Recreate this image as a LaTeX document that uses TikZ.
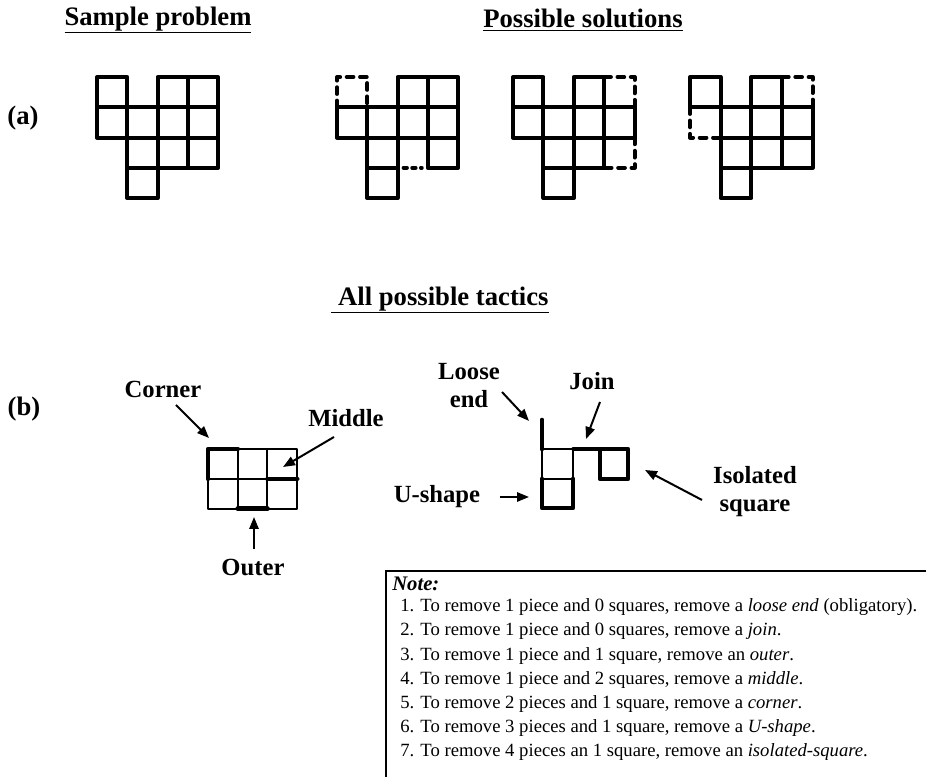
\documentclass[tikz,border=0pt]{standalone}
\usepackage{fontspec}
\setmainfont{Liberation Serif}
\usetikzlibrary{arrows.meta}
\begin{document}
\begin{tikzpicture}[x=0.75pt,y=-0.75pt,
  grid/.style={line width=3pt,line cap=round,line join=round},
  dsh/.style={grid,dash pattern=on 5pt off 5pt},
  dots/.style={grid,dash pattern=on 2.5pt off 4pt},
  thinl/.style={line width=1.5pt,line cap=round,line join=round},
  thk/.style={line width=3.5pt,line cap=round,line join=round},
  midl/.style={line width=2.5pt,line cap=round},
  ttl/.style={font=\fontsize{20}{24}\selectfont\bfseries,inner sep=0pt},
  lbl/.style={font=\fontsize{18.5}{21}\selectfont\bfseries,inner sep=0pt,align=center},
  notetxt/.style={font=\fontsize{14}{18}\selectfont,inner sep=0pt,anchor=base west},
  arr/.style={line width=1.5pt,-{Triangle[length=9pt,width=7pt]}}]
\useasboundingbox (0,0) rectangle (926,777);

% titles
\node[ttl] (t1) at (158,20) {\underline{Sample problem}};
\node[ttl] (t2) at (583,20) {\underline{Possible solutions}};
\node[ttl] (t3) at (440,300) {\underline{\ All possible tactics}};
\node[ttl] (la) at (23,118) {(a)};
\node[ttl] (lb) at (24,409) {(b)};

% sample problem
\begin{scope}[shift={(97,77)},x=22.7pt,y=-22.7pt]
  \foreach \c/\r in {0/0,2/0,3/0,0/1,1/1,2/1,3/1,1/2,2/2,3/2,1/3}
    \draw[grid] (\c,\r) rectangle ++(1,1);
\end{scope}

% solution 1
\begin{scope}[shift={(337,77)},x=22.7pt,y=-22.7pt]
  \foreach \c/\r in {2/0,3/0,0/1,1/1,2/1,3/1,1/2,3/2,1/3}
    \draw[grid] (\c,\r) rectangle ++(1,1);
  \draw[dsh] (0,1) -- (0,0) -- (1,0) -- (1,1);
  \draw[dots] (2.2,3) -- (2.8,3);
\end{scope}

% solution 2
\begin{scope}[shift={(513,77)},x=22.8pt,y=-22.7pt]
  \foreach \c/\r in {0/0,2/0,0/1,1/1,2/1,3/1,1/2,2/2,1/3}
    \draw[grid] (\c,\r) rectangle ++(1,1);
  \draw[dsh] (3,0) -- (4,0) -- (4,1);
  \draw[dsh] (4,2) -- (4,3) -- (3,3);
\end{scope}

% solution 3
\begin{scope}[shift={(690,77)},x=23pt,y=-22.7pt]
  \foreach \c/\r in {0/0,2/0,1/1,2/1,3/1,1/2,2/2,3/2,1/3}
    \draw[grid] (\c,\r) rectangle ++(1,1);
  \draw[dsh] (3,0) -- (4,0) -- (4,1);
  \draw[dsh] (0,1) -- (0,2) -- (1,2);
\end{scope}

% tactics left grid
\begin{scope}[shift={(208,449)},x=22.3pt,y=-22.4pt]
  \draw[thinl] (0,0) rectangle (3,2);
  \draw[thinl] (1,0) -- (1,2) (2,0) -- (2,2) (0,1) -- (3,1);
  \draw[thk] (0,1) -- (0,0) -- (1,0);
  \draw[thk] (2,1) -- (3,1);
  \draw[thk] (1,2) -- (2,2);
\end{scope}

\node[lbl] (corner) at (163,389) {Corner};
\node[lbl] (middle) at (346,418) {Middle};
\node[lbl] (outer) at (253,567) {Outer};
\coordinate (cornerT) at (176,405);
\coordinate (cornerH) at (209,438);
\coordinate (middleT) at (334,437);
\coordinate (middleH) at (283,467);
\coordinate (outerT) at (254,549);
\coordinate (outerH) at (254,517);
\draw[arr] (cornerT) -- (cornerH);
\draw[arr] (middleT) -- (middleH);
\draw[arr] (outerT) -- (outerH);

% tactics right figure
\draw[thinl] (542,449) rectangle (573,479);
\draw[thinl] (542,479) -- (573,479);
\draw[thk] (542,420) -- (542,449);
\draw[thk] (542,479) -- (542,508) -- (573,508) -- (573,479);
\draw[midl] (573,449) -- (600,449);
\draw[thk] (600,449) rectangle (628,479);

\node[lbl] (loose) at (469,386) {Loose\\end};
\node[lbl] (join) at (592,381) {Join};
\node[lbl] (ushape) at (437,497) {U-shape};
\node[lbl] (iso) at (755,492) {Isolated\\square};
\coordinate (looseT) at (502,392);
\coordinate (looseH) at (529,421);
\coordinate (joinT) at (600,402);
\coordinate (joinH) at (586,439);
\coordinate (uT) at (500,497);
\coordinate (uH) at (529,497);
\coordinate (isoT) at (702,500);
\coordinate (isoH) at (645,470);
\draw[arr] (looseT) -- (looseH);
\draw[arr] (joinT) -- (joinH);
\draw[arr] (uT) -- (uH);
\draw[arr] (isoT) -- (isoH);

% note box
\draw[line width=1.2pt] (930,571) -| (386,780);
\node[notetxt,font=\fontsize{15.5}{18}\selectfont] (note) at (392,590) {\textbf{\textit{Note:}}};
\node[notetxt] (n1) at (400,612) {1. To remove 1 piece and 0 squares, remove a \textit{loose end} (obligatory).};
\node[notetxt] (n2) at (400,636) {2. To remove 1 piece and 0 squares, remove a \textit{join}.};
\node[notetxt] (n3) at (400,660) {3. To remove 1 piece and 1 square, remove an \textit{outer}.};
\node[notetxt] (n4) at (400,684) {4. To remove 1 piece and 2 squares, remove a \textit{middle}.};
\node[notetxt] (n5) at (400,708) {5. To remove 2 pieces and 1 square, remove a \textit{corner}.};
\node[notetxt] (n6) at (400,732) {6. To remove 3 pieces and 1 square, remove a \textit{U-shape}.};
\node[notetxt] (n7) at (400,756) {7. To remove 4 pieces an 1 square, remove an \textit{isolated-square}.};
\end{tikzpicture}
\end{document}
